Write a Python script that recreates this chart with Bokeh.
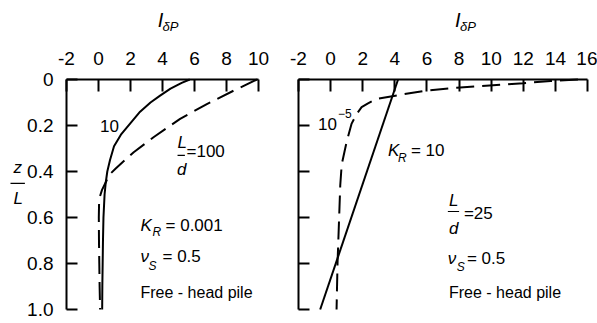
from bokeh.plotting import figure
from bokeh.models import Range1d, FixedTicker, Label
from bokeh.layouts import row
from bokeh.embed import file_html
from bokeh.resources import INLINE

FONT = "Liberation Sans"

# Left panel (K_R = 0.001): influence factor I_dP versus depth ratio z/L
z_ld10 = [0.0, 0.015, 0.04, 0.07, 0.10, 0.14, 0.19, 0.24, 0.29, 0.35, 0.40, 0.45, 0.50, 0.60, 0.70, 0.80, 0.90, 1.0]
i_ld10 = [5.7, 5.2, 4.5, 3.85, 3.25, 2.6, 2.0, 1.4, 0.97, 0.72, 0.55, 0.45, 0.38, 0.31, 0.28, 0.26, 0.24, 0.23]
z_ld100 = [0.0, 0.048, 0.106, 0.171, 0.25, 0.316, 0.388, 0.417, 0.44, 0.48, 0.52, 0.60, 0.70, 0.80, 0.90, 1.0]
i_ld100 = [9.9, 8.46, 6.8, 5.1, 3.46, 2.2, 1.06, 0.64, 0.50, 0.22, 0.04, 0.02, 0.03, 0.05, 0.07, 0.10]

# Right panel (L/d = 25)
z_kr10 = [0.0, 1.0]
i_kr10 = [4.2, -0.65]
z_kr1e5 = [0.0, 0.007, 0.016, 0.026, 0.036, 0.05, 0.067, 0.084, 0.105, 0.12, 0.15, 0.193, 0.27, 0.37, 0.46, 0.58, 0.80, 1.0]
i_kr1e5 = [15.4, 13.7, 12.0, 9.9, 7.85, 5.77, 4.3, 2.86, 2.3, 1.93, 1.62, 1.3, 1.0, 0.69, 0.6, 0.54, 0.43, 0.37]

x_ticks_left = [-2, 0, 2, 4, 6, 8, 10]
x_labels_left = ["-2", "0", "2", "4", "6", "8", "10"]
x_ticks_right = [-2, 0, 2, 4, 6, 8, 10, 12, 14, 16]
x_labels_right = ["-2", "0", "2", "4", "6", "8", "10", "12", "14", "16"]
z_ticks = [0.0, 0.2, 0.4, 0.6, 0.8, 1.0]
z_tick_labels = ["0", "0.2", "0.4", "0.6", "0.8", "1.0"]

PX_PER_UNIT_Z = 230.0   # vertical pixels per unit of z/L
TOP_PX = 79.0           # pixel row of z/L = 0
HEIGHT = 323


def make_panel(width, x_lo, x_hi, px_per_unit, origin_px, xticks, xlabels, show_z_labels):
    # frame spans the whole canvas; axes are pinned at x = x_lo and z = 0
    x_start = x_lo - origin_px / px_per_unit
    x_end = x_start + width / px_per_unit
    z_top = -TOP_PX / PX_PER_UNIT_Z
    z_bottom = z_top + HEIGHT / PX_PER_UNIT_Z
    p = figure(width=width, height=HEIGHT,
               x_range=Range1d(x_start, x_end), y_range=Range1d(z_bottom, z_top),
               x_axis_location="above", output_backend="svg", toolbar_location=None,
               min_border=0, min_border_left=0, min_border_right=0,
               min_border_top=0, min_border_bottom=0)
    p.outline_line_color = None
    p.grid.visible = False
    p.background_fill_color = "white"
    p.border_fill_color = "white"

    for ax in (p.xaxis[0], p.yaxis[0]):
        ax.axis_line_width = 2
        ax.axis_line_color = "black"
        ax.major_tick_line_width = 2
        ax.major_tick_line_color = "black"
        ax.major_tick_out = 0
        ax.minor_tick_line_color = None
        ax.major_label_text_font = FONT
        ax.major_label_text_font_size = "19px"
        ax.major_label_text_color = "black"

    xa = p.xaxis[0]
    xa.ticker = FixedTicker(ticks=xticks)
    xa.fixed_location = 0.0
    xa.bounds = (xticks[0], xticks[-1])
    xa.major_tick_in = 12
    xa.major_label_standoff = 15
    xa.major_label_overrides = {t: s for t, s in zip(xticks, xlabels)}

    ya = p.yaxis[0]
    ya.ticker = FixedTicker(ticks=z_ticks)
    ya.fixed_location = x_lo
    ya.bounds = (z_ticks[0], z_ticks[-1])
    ya.major_tick_in = 11
    ya.major_label_standoff = 13
    if show_z_labels:
        ya.major_label_overrides = {t: s for t, s in zip(z_ticks, z_tick_labels)}
    else:
        ya.major_label_overrides = {t: "" for t in z_ticks}
    return p


def txt(p, x, y, s, size=17, style="normal", align="left"):
    # y is the intended baseline; Label draws the glyphs a little lower, so lift it
    y_draw = y - 0.4 * size / PX_PER_UNIT_Z
    p.add_layout(Label(x=x, y=y_draw, text=s, text_font=FONT, text_font_size=f"{size}px",
                       text_font_style=style, text_align=align,
                       text_baseline="alphabetic", text_color="black"))


def bar(p, x0, x1, y):
    p.segment(x0=[x0], y0=[y], x1=[x1], y1=[y], line_color="black", line_width=1.2)


# ---- left panel ----
left = make_panel(278, -2, 10, 16.0, 66, x_ticks_left, x_labels_left, True)
left.line(i_ld10, z_ld10, line_color="black", line_width=2)
left.line(i_ld100, z_ld100, line_color="black", line_width=2, line_dash="18 8")

txt(left, 3.7, -0.226, "I", size=20, style="italic")
txt(left, 4.0, -0.209, "δP", size=13, style="italic")
txt(left, -5.31, 0.413, "z", style="italic")
bar(left, -5.5, -4.6, 0.452)
txt(left, -5.31, 0.548, "L", style="italic")

txt(left, 0.69, 0.23, "10", align="center")
txt(left, 4.94, 0.304, "L", style="italic")
bar(left, 4.94, 5.4, 0.330)
txt(left, 4.9, 0.422, "d", style="italic")
txt(left, 5.5, 0.343, "=100")
txt(left, 2.625, 0.665, "K", style="italic")
txt(left, 3.375, 0.683, "R", size=12, style="italic")
txt(left, 4.19, 0.665, "= 0.001")
txt(left, 2.625, 0.80, "ν", style="italic")
txt(left, 3.125, 0.83, "S", size=12, style="italic")
txt(left, 4.0, 0.80, "= 0.5")
txt(left, 2.625, 0.952, "Free - head pile", size=16)

# ---- right panel ----
right = make_panel(319, -2, 16, 16.06, 20, x_ticks_right, x_labels_right, False)
right.line(i_kr10, z_kr10, line_color="black", line_width=2)
right.line(i_kr1e5, z_kr1e5, line_color="black", line_width=2, line_dash="18 8")

txt(right, 7.75, -0.226, "I", size=20, style="italic")
txt(right, 8.05, -0.209, "δP", size=13, style="italic")

txt(right, -0.79, 0.222, "10")
txt(right, 0.455, 0.17, "−5", size=12)
txt(right, 3.57, 0.339, "K", style="italic")
txt(right, 4.19, 0.361, "R", size=12, style="italic")
txt(right, 5.0, 0.339, "= 10")
txt(right, 7.37, 0.557, "L", style="italic")
bar(right, 7.3, 8.0, 0.574)
txt(right, 7.37, 0.678, "d", style="italic")
txt(right, 8.3, 0.613, "=25")
txt(right, 7.3, 0.809, "ν", style="italic")
txt(right, 7.86, 0.835, "S", size=12, style="italic")
txt(right, 8.49, 0.809, "= 0.5")
txt(right, 7.37, 0.952, "Free - head pile", size=16)

layout = row(left, right)
open("out.html", "w").write(file_html(layout, INLINE))
